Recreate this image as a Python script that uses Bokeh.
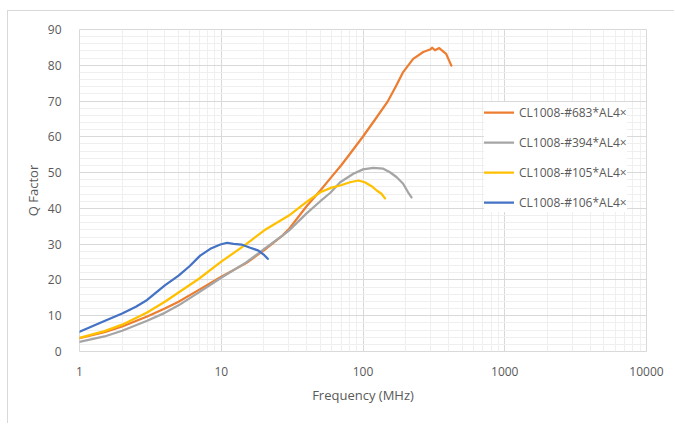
from bokeh.plotting import figure
from bokeh.models import (FixedTicker, Legend, LegendItem, Range1d, CustomJSTickFormatter)
from bokeh.embed import file_html
from bokeh.resources import INLINE

# ---------------- data ----------------
series_names = ["CL1008-#683*AL4×", "CL1008-#394*AL4×", "CL1008-#105*AL4×", "CL1008-#106*AL4×"]

f_683 = [1, 1.5, 2, 3, 4, 5, 7, 10, 15, 20, 27, 30, 40, 50, 60, 70, 80, 100, 120, 150,
         170, 192, 226, 266, 297, 308, 322, 345, 362, 386, 420]
q_683 = [3.7, 5.4, 7.0, 9.8, 12.0, 13.9, 17.3, 20.9, 24.7, 28.3, 32.4, 34.2, 40.6, 45.0, 48.8,
         52.0, 55.0, 60.1, 64.5, 70.0, 74.0, 78.1, 81.8, 83.7, 84.4, 84.9, 84.2, 84.8, 84.1, 83.2, 79.9]

f_394 = [1, 1.5, 2, 3, 4, 5, 7, 10, 15, 20, 27, 30, 40, 50, 58.6, 69, 85.5, 100, 118, 139,
         155, 173, 192, 208, 220]
q_394 = [2.7, 4.2, 5.8, 8.6, 10.8, 12.9, 16.6, 20.6, 24.9, 28.6, 32.4, 33.8, 38.6, 42.0, 44.3,
         47.3, 49.7, 50.9, 51.3, 51.1, 50.1, 48.7, 46.9, 44.5, 43.1]

f_105 = [1, 1.5, 2, 3, 4, 5, 7, 10, 15, 20, 30, 40, 50, 60, 69, 81, 92.7, 103, 115, 125, 135, 143]
q_105 = [3.8, 5.7, 7.5, 10.9, 13.9, 16.5, 20.4, 25.1, 30.0, 33.8, 38.0, 41.8, 44.5, 45.8, 46.4,
         47.3, 47.8, 47.3, 46.2, 45.0, 44.1, 42.8]

f_106 = [1, 1.5, 2, 2.5, 3, 4, 5, 6, 7.1, 8.37, 9.85, 11, 12.2, 13.9, 16, 18.3, 19.9, 21.3]
q_106 = [5.5, 8.5, 10.6, 12.5, 14.4, 18.5, 21.2, 23.9, 26.8, 28.7, 29.9, 30.4, 30.1, 29.9,
         29.0, 28.2, 27.1, 25.9]

x_ticks = [1, 10, 100, 1000, 10000]
x_minor = [m * d for d in [1, 10, 100, 1000] for m in range(2, 10)]
y_ticks = [0, 10, 20, 30, 40, 50, 60, 70, 80, 90]
y_minor = [v for v in range(0, 91, 2) if v % 10]

colors = ["#ED7D31", "#A5A5A5", "#FFC000", "#4472C4"]

# ---------------- figure ----------------
FONT = "Open Sans"
TXT = "#595959"

p = figure(width=667, height=413, x_axis_type="log", output_backend="svg",
           toolbar_location=None, x_range=Range1d(1, 10000), y_range=Range1d(0, 90),
           min_border_left=71, min_border_right=29, min_border_top=18, min_border_bottom=73,
           background_fill_color="white", border_fill_color="white")
p.margin = (10, 0, 0, 7)
p.styles = {"border-left": "1px solid #d9d9d9", "border-top": "1px solid #d9d9d9"}

p.outline_line_color = "#d9d9d9"
p.outline_line_width = 1

p.xaxis.ticker = FixedTicker(ticks=x_ticks, minor_ticks=x_minor)
p.yaxis.ticker = FixedTicker(ticks=y_ticks, minor_ticks=y_minor)
p.xaxis.formatter = CustomJSTickFormatter(code="return tick.toFixed(0);")

for ax in (p.xaxis, p.yaxis):
    ax.axis_line_color = None
    ax.major_tick_line_color = None
    ax.minor_tick_line_color = None
    ax.major_label_text_font = FONT
    ax.major_label_text_font_size = "12px"
    ax.major_label_text_color = TXT
    ax.axis_label_text_font = FONT
    ax.axis_label_text_font_size = "13px"
    ax.axis_label_text_color = TXT
    ax.axis_label_text_font_style = "normal"

p.xaxis.axis_label = "Frequency (MHz)"
p.yaxis.axis_label = "Q Factor"
p.xaxis.major_label_standoff = 9
p.yaxis.major_label_standoff = 12
p.xaxis.axis_label_standoff = 7
p.yaxis.axis_label_standoff = 3

for g in (p.xgrid, p.ygrid):
    g.grid_line_color = "#d9d9d9"
    g.grid_line_width = 1
    g.minor_grid_line_color = "#efefef"
    g.minor_grid_line_width = 1
p.xgrid.ticker = p.xaxis.ticker
p.ygrid.ticker = p.yaxis.ticker

renderers = []
for fx, qy, c in [(f_683, q_683, colors[0]), (f_394, q_394, colors[1]),
                  (f_105, q_105, colors[2]), (f_106, q_106, colors[3])]:
    r = p.line(fx, qy, line_color=c, line_width=2.25, line_join="round", line_cap="round")
    renderers.append(r)

legend = Legend(items=[LegendItem(label=n, renderers=[r]) for n, r in zip(series_names, renderers)],
                location=(405, 139), orientation="vertical",
                glyph_width=30, glyph_height=20, label_height=20, label_standoff=5,
                spacing=10, padding=3, margin=0,
                label_text_font=FONT, label_text_font_size="12px", label_text_color=TXT,
                border_line_color=None, background_fill_color="white", background_fill_alpha=1.0)
p.add_layout(legend, "center")

open("out.html", "w").write(file_html(p, INLINE))
